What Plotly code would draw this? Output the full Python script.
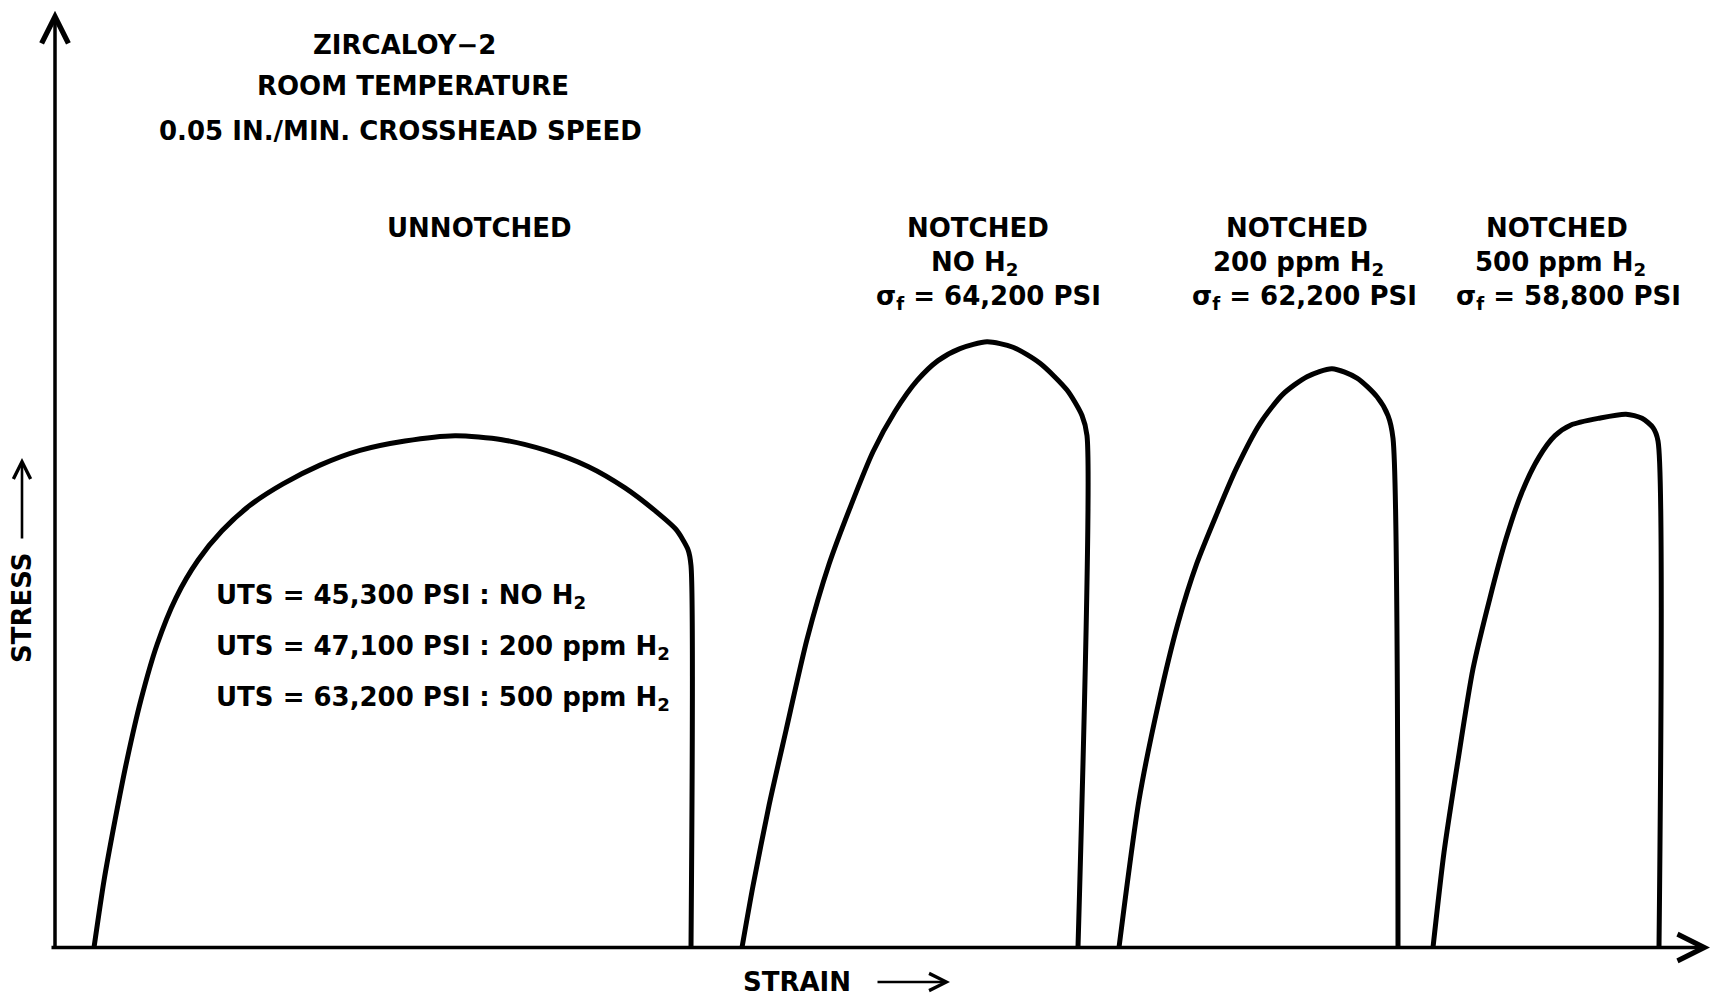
import plotly.graph_objects as go

# Schematic stress-strain curves, Zircaloy-2 at room temperature.
# Strain in arbitrary (relative) units, stress in ksi.

unnotched_strain = [0.39, 0.49, 0.60, 0.72, 0.86, 1.02, 1.21, 1.43, 1.67, 1.95, 2.28, 2.65,
                    3.05, 3.50, 4.00, 4.47, 4.91, 5.33, 5.70, 6.00, 6.21, 6.33, 6.36, 6.36]
unnotched_stress = [19.0, 24.0, 28.5, 33.0, 37.5, 41.6, 45.1, 47.9, 50.1, 52.0, 53.6, 55.0,
                    56.1, 56.8, 57.2, 56.9, 56.1, 54.9, 53.3, 51.6, 50.2, 48.7, 47.5, 19.0]

notched_0_strain = [6.87, 6.98, 7.14, 7.31, 7.52, 7.74, 7.96, 8.18, 8.40, 8.62, 8.83, 9.05,
                    9.32, 9.58, 9.85, 10.12, 10.27, 10.32, 10.23]
notched_0_stress = [19.0, 23.6, 29.6, 35.2, 42.0, 47.6, 52.0, 56.0, 59.0, 61.3, 62.8, 63.7,
                    64.2, 63.8, 62.6, 60.6, 58.7, 57.2, 19.0]

notched_200_strain = [10.64, 10.84, 11.04, 11.23, 11.42, 11.62, 11.81, 12.05, 12.28, 12.52,
                      12.77, 13.02, 13.22, 13.33, 13.38, 13.43]
notched_200_stress = [19.0, 30.0, 37.4, 43.2, 47.7, 51.4, 54.7, 58.1, 60.3, 61.6,
                      62.2, 61.5, 60.1, 58.7, 57.0, 19.0]

notched_500_strain = [13.78, 13.89, 14.02, 14.18, 14.35, 14.51, 14.67, 14.84, 15.00, 15.16,
                      15.44, 15.71, 15.87, 15.98, 16.03, 16.04]
notched_500_stress = [19.0, 26.1, 32.5, 39.8, 45.1, 49.5, 53.0, 55.6, 57.2, 58.0,
                      58.5, 58.8, 58.5, 57.8, 56.8, 19.0]

hydrogen_labels = ["NO H<sub>2</sub>", "200 ppm H<sub>2</sub>", "500 ppm H<sub>2</sub>"]
uts_psi = [45300, 47100, 63200]
uts_hydrogen = ["NO H<sub>2</sub>", "200 ppm H<sub>2</sub>", "500 ppm H<sub>2</sub>"]

header_lines = ["ZIRCALOY−2", "ROOM TEMPERATURE", "0.05 IN./MIN. CROSSHEAD SPEED"]

W, H = 1711, 997
X_RANGE = [-0.55, 16.56]
Y_RANGE = [15.31, 89.71]
BASE = 19.0
FONT = "DejaVu Sans"
FONT_SIZE = 26
INK = "#000000"

fig = go.Figure()

curves = [
    (unnotched_strain, unnotched_stress),
    (notched_0_strain, notched_0_stress),
    (notched_200_strain, notched_200_stress),
    (notched_500_strain, notched_500_stress),
]
for xs, ys in curves:
    fig.add_trace(go.Scatter(
        x=xs, y=ys, mode="lines",
        line=dict(color=INK, width=5, shape="spline", smoothing=0.7),
        hoverinfo="skip", showlegend=False,
    ))


def px(x, y):
    return x / W, 1 - y / H


def text(s, x, y, size=FONT_SIZE, anchor="center", angle=0):
    xp, yp = px(x, y)
    fig.add_annotation(
        text=s, x=xp, y=yp, xref="paper", yref="paper",
        xanchor=anchor, yanchor="middle", showarrow=False, textangle=angle,
        font=dict(family=FONT, size=size, color=INK, weight="bold"),
    )


def pointer(x, y, dx, dy):
    # short direction arrow next to an axis title; head at (x, y)
    xp, yp = px(x, y)
    fig.add_annotation(
        x=xp, y=yp, xref="paper", yref="paper", ax=-dx, ay=-dy,
        text="", showarrow=True, arrowhead=5, arrowsize=1.3, arrowwidth=2.6,
        arrowcolor=INK, standoff=0, startstandoff=0,
    )


# axes drawn as arrows from the origin
fig.add_annotation(x=0, y=88.9, ax=0, ay=BASE, xref="x", yref="y", axref="x", ayref="y",
                   text="", showarrow=True, arrowhead=5, arrowsize=1.5, arrowwidth=3.5,
                   arrowcolor=INK, standoff=0, startstandoff=0)
fig.add_annotation(x=16.55, y=BASE, ax=-0.05, ay=BASE, xref="x", yref="y", axref="x", ayref="y",
                   text="", showarrow=True, arrowhead=5, arrowsize=1.5, arrowwidth=3.5,
                   arrowcolor=INK, standoff=0, startstandoff=0)

# header block
for s, (x, y) in zip(header_lines, [(404, 45), (413, 86), (400, 131)]):
    text(s, x, y)

text("UNNOTCHED", 479, 228)

# notched specimen labels, fracture stress taken from each curve's peak
notched = [notched_0_stress, notched_200_stress, notched_500_stress]
label_x = [(978, 974, 988), (1297, 1298, 1304), (1557, 1560, 1568)]
for ys, h2, (x1, x2, x3) in zip(notched, hydrogen_labels, label_x):
    peak_psi = round(max(ys) * 1000)
    text("NOTCHED", x1, 228)
    text(h2, x2, 263)
    text(f"σ<sub>f</sub> = {peak_psi:,} PSI", x3, 298)

# ultimate tensile strengths of the unnotched specimens
for i, (v, h2) in enumerate(zip(uts_psi, uts_hydrogen)):
    text(f"UTS = {v:,} PSI : {h2}", 214, 596 + i * 51, anchor="left")

# axis titles with their direction arrows
text("STRESS", 22, 608, angle=-90)
pointer(22, 458, 0, -82)
text("STRAIN", 797, 982)
pointer(950, 982, 74, 0)

fig.update_layout(
    width=W, height=H,
    margin=dict(l=0, r=0, t=0, b=0),
    paper_bgcolor="white", plot_bgcolor="white",
    font=dict(family=FONT, size=FONT_SIZE, color=INK),
    xaxis=dict(range=X_RANGE, visible=False, fixedrange=True),
    yaxis=dict(range=Y_RANGE, visible=False, fixedrange=True),
    showlegend=False,
)

fig.write_html("out.html", config={"displayModeBar": False})
